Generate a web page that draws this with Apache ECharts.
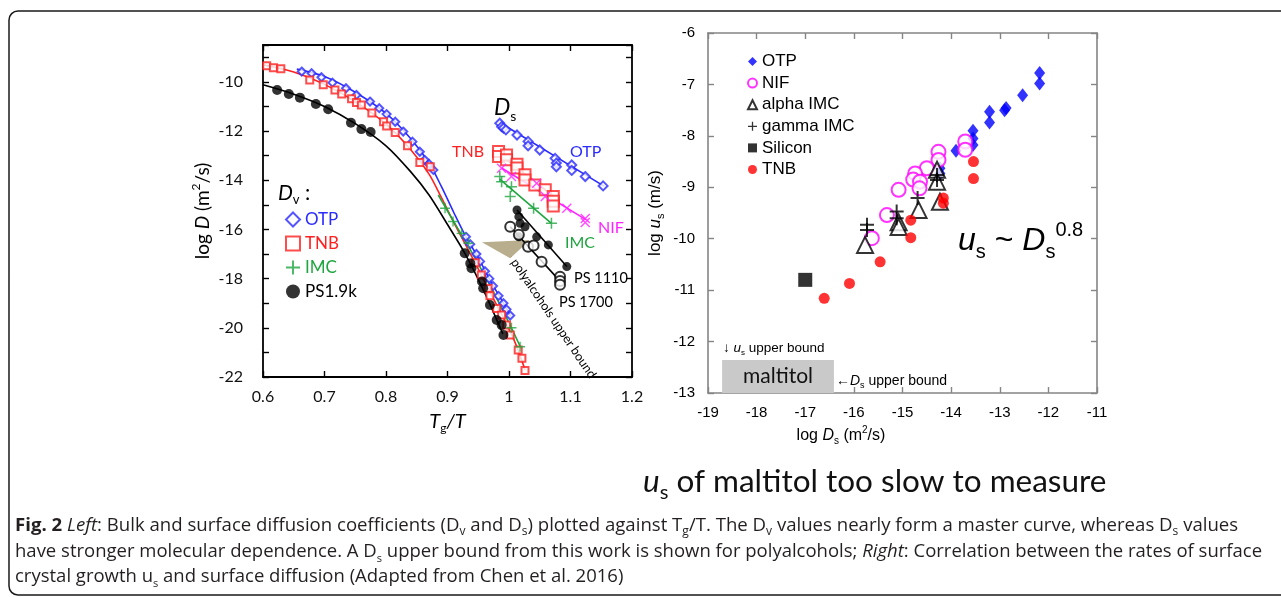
<!DOCTYPE html>
<html><head><meta charset="utf-8">
<script src="https://cdn.jsdelivr.net/npm/echarts@6/dist/echarts.min.js"></script>
<style>html,body{margin:0;padding:0;background:#fff}#c{width:1281px;height:597px}</style>
</head><body><div id="c"></div>
<script>
// ---------- LEFT PANEL DATA (x = Tg/T, y = log D) ----------
const dvOTP = [[0.663,-9.58],[0.679,-9.65],[0.695,-9.81],[0.713,-10.03],[0.735,-10.26],[0.752,-10.53],[0.774,-10.8],[0.789,-11.07],[0.801,-11.31],[0.815,-11.62],[0.828,-12.02],[0.843,-12.43],[0.855,-12.84],[0.863,-13.17],[0.870,-13.34],[0.877,-13.58],[0.930,-16.3],[0.937,-16.6],[0.947,-17.0],[0.953,-17.3],[0.961,-17.7],[0.968,-18.0],[0.974,-18.3],[0.983,-18.7],[0.991,-19.0],[0.996,-19.25],[1.002,-19.5]];
const dvTNB = [[0.606,-9.34],[0.617,-9.42],[0.629,-9.47],[0.676,-9.92],[0.698,-10.12],[0.717,-10.33],[0.728,-10.49],[0.744,-10.69],[0.752,-10.84],[0.760,-10.94],[0.777,-11.27],[0.796,-11.62],[0.801,-11.79],[0.815,-12.06],[0.835,-12.6],[0.855,-13.28],[0.872,-13.45],[0.945,-17.35],[0.955,-17.85],[0.966,-18.4],[0.969,-18.7],[0.98,-19.21],[0.988,-19.48],[0.996,-19.89],[1.002,-20.29],[1.015,-20.9],[1.021,-21.24],[1.026,-21.74]];
const dvIMC = [[0.896,-15.14],[0.909,-15.68],[0.923,-16.16],[0.934,-16.56],[1.004,-20.0],[1.018,-20.77]];
const dvPS = [[0.623,-10.33],[0.642,-10.49],[0.66,-10.64],[0.686,-10.9],[0.706,-11.11],[0.743,-11.66],[0.76,-11.92],[0.775,-12.04],[0.928,-16.97],[0.937,-17.38],[0.939,-17.58],[0.956,-18.12],[0.958,-18.39],[0.969,-19.07],[0.98,-19.68],[0.988,-19.89],[0.991,-20.29]];
const fitOTP = [[0.655,-9.48],[0.7,-9.78],[0.75,-10.42],[0.8,-11.28],[0.84,-12.3],[0.87,-13.3],[0.89,-14.25],[0.91,-15.3],[0.93,-16.3],[0.95,-17.15],[0.97,-18.1],[0.99,-18.95],[1.003,-19.55]];
const fitTNB = [[0.6,-9.3],[0.65,-9.6],[0.7,-10.1],[0.75,-10.8],[0.8,-11.72],[0.84,-12.75],[0.87,-13.75],[0.89,-14.7],[0.91,-15.7],[0.93,-16.65],[0.95,-17.6],[0.97,-18.6],[0.99,-19.55],[1.01,-20.6],[1.026,-21.7]];
const fitPS = [[0.6,-10.12],[0.65,-10.5],[0.7,-11.0],[0.75,-11.7],[0.8,-12.6],[0.84,-13.65],[0.87,-14.6],[0.9,-15.8],[0.93,-17.05],[0.96,-18.55],[0.99,-20.25]];
const fitIMC = [[0.885,-14.6],[0.9,-15.25],[0.92,-16.1],[0.94,-16.95],[0.96,-17.85],[0.98,-18.8],[1.0,-19.8],[1.02,-20.85]];
const dsOTP = [[0.985,-11.68],[0.988,-11.82],[0.991,-11.88],[0.995,-11.95],[1.013,-12.16],[1.031,-12.42],[1.031,-12.6],[1.05,-12.77],[1.075,-13.11],[1.077,-13.3],[1.077,-13.45],[1.102,-13.38],[1.102,-13.6],[1.124,-13.85],[1.153,-14.23]];
const dsTNB = [[0.983,-12.83],[0.983,-13.03],[0.996,-12.97],[0.996,-13.17],[1.013,-13.35],[1.013,-13.5],[1.026,-13.78],[1.026,-13.99],[1.042,-14.19],[1.059,-14.39],[1.072,-14.66],[1.072,-14.85],[1.072,-15.05]];
const dsNIF = [[0.988,-13.51],[1.004,-13.85],[1.045,-14.12],[1.059,-14.66],[1.094,-15.14],[1.124,-15.55],[1.124,-15.72]];
const dsIMC = [[0.985,-13.85],[0.988,-14.06],[1.004,-14.26],[1.002,-14.66],[1.04,-15.14],[1.069,-15.75]];
const ps1110 = [[1.013,-15.21],[1.016,-15.48],[1.018,-15.75],[1.026,-15.89],[1.016,-16.3],[1.045,-16.3],[1.064,-16.63],[1.094,-17.51]];
const ps1700 = [[1.002,-15.89],[1.016,-16.22],[1.031,-16.7],[1.04,-16.65],[1.053,-17.31],[1.083,-17.92],[1.083,-18.1],[1.083,-18.25]];
const fitDsOTP = [[0.985,-11.65],[1.155,-14.25]];
const fitDsTNB = [[0.985,-12.95],[1.072,-14.65]];
const fitDsNIF = [[0.988,-13.5],[1.125,-15.6]];
const fitDsIMC = [[0.985,-13.95],[1.069,-15.75]];
const fitPS1110 = [[1.013,-15.21],[1.094,-17.51]];
const fitPS1700 = [[1.002,-15.89],[1.083,-18.1]];
const polyalcoholBound = [[0.956,-16.52],[1.034,-16.43],[1.002,-17.17]];

// ---------- RIGHT PANEL DATA (x = log Ds, y = log us) ----------
const rOTP = [[-12.18,-6.78],[-12.18,-6.98],[-12.53,-7.21],[-12.87,-7.46],[-12.9,-7.5],[-13.21,-7.53],[-13.21,-7.74],[-13.55,-7.9],[-13.55,-8.05],[-13.55,-8.18],[-13.9,-8.29],[-14.23,-8.63],[-14.23,-8.73]];
const rNIF = [[-13.71,-8.11],[-13.71,-8.27],[-14.26,-8.31],[-14.26,-8.47],[-14.5,-8.63],[-14.74,-8.73],[-14.78,-8.85],[-14.64,-8.89],[-14.65,-9.02],[-15.08,-9.05],[-15.32,-9.54],[-15.63,-9.99]];
const rAlphaIMC = [[-15.77,-10.12],[-15.08,-9.68],[-15.08,-9.77],[-14.67,-9.44],[-14.29,-8.66],[-14.29,-8.89],[-14.23,-9.28]];
const rGammaIMC = [[-15.73,-9.73],[-15.73,-9.83],[-15.12,-9.47],[-15.12,-9.6],[-14.69,-9.21],[-14.29,-8.76],[-14.29,-8.86]];
const rSilicon = [[-17.0,-10.8]];
const rTNB = [[-16.61,-11.16],[-16.09,-10.87],[-15.46,-10.45],[-14.83,-9.64],[-14.83,-9.98],[-14.16,-9.21],[-14.16,-9.31],[-13.54,-8.5],[-13.54,-8.83]];
const maltitolBox = [[-18.71,-13],[-16.41,-12.36]];

// ---------- styling ----------
const LF = 'Lato', RF = 'Liberation Sans', CF = 'Open Sans';
const C_BLUE = '#2b2bff', C_RED = '#ff2020', C_GREEN = '#1fa540', C_MAG = '#ff22ff';
const PLUS = 'path://M4.3,0h1.4v4.3h4.3v1.4h-4.3v4.3h-1.4v-4.3h-4.3v-1.4h4.3z';
const PLUS_B = 'path://M6,0h2v6h6v2h-6v6h-2v-6h-6v-2h6z';
const CROSS = 'path://M0,1L1,0L5,4L9,0L10,1L6,5L10,9L9,10L5,6L1,10L0,9L4,5Z';

function rs(size, fam, subRatio) {
  const ss = Math.round(size * (subRatio || 0.62));
  return {
    i: {fontStyle: 'italic', fontSize: size, fontFamily: fam},
    b: {fontWeight: 'bold', fontSize: size, fontFamily: fam},
    s: {fontSize: ss, fontFamily: fam, lineHeight: ss, verticalAlign: 'bottom'},
    p: {fontSize: ss, fontFamily: fam, lineHeight: ss, verticalAlign: 'top'}
  };
}
function txt(x, y, text, size, fam, color, extra, align) {
  return Object.assign({type: 'text', x, y, silent: true, style: {text, fontSize: size, fontFamily: fam, fill: color,
    lineHeight: Math.round(size * 1.3), verticalAlign: 'middle', align: align || 'left', rich: rs(size, fam)}}, extra || {});
}

const chart = echarts.init(document.getElementById('c'), null, {renderer: 'canvas'});

function sc(name, data, symbol, size, color, extra) {
  return Object.assign({type: 'scatter', name, data, symbol, symbolSize: size,
    itemStyle: {color: color}, z: 4, silent: true, animation: false}, extra || {});
}
function ln(data, color, width, smooth, axes) {
  return Object.assign({type: 'line', data, symbol: 'none', smooth: smooth,
    lineStyle: {color, width}, z: 3, silent: true, animation: false}, axes);
}
const L = {xAxisIndex: 0, yAxisIndex: 0};
const R = {xAxisIndex: 2, yAxisIndex: 2};

const series = [
  {type: 'custom', xAxisIndex: 0, yAxisIndex: 0, data: [0], z: 1, silent: true, animation: false,
    renderItem: (p, api) => ({type: 'polygon', shape: {points: polyalcoholBound.map(d => api.coord(d))}, style: {fill: '#b8ad8c'}})},
  ln(fitOTP, C_BLUE, 1.6, 0.3, L),
  ln(fitTNB, C_RED, 1.6, 0.3, L),
  ln(fitPS, '#000', 1.6, 0.3, L),
  ln(fitIMC, C_GREEN, 1.6, 0.3, L),
  sc('OTP (Dv)', dvOTP, 'emptyDiamond', 8, C_BLUE, Object.assign({itemStyle: {color: C_BLUE, borderWidth: 1.2}}, L)),
  sc('TNB (Dv)', dvTNB, 'emptyRect', 7, C_RED, Object.assign({itemStyle: {color: C_RED, borderWidth: 1.2}}, L)),
  sc('IMC (Dv)', dvIMC, PLUS, 10, C_GREEN, L),
  sc('PS1.9k (Dv)', dvPS, 'circle', 10, '#000', L),
  ln(fitDsOTP, C_BLUE, 1.6, false, L),
  ln(fitDsTNB, C_RED, 1.6, false, L),
  ln(fitDsNIF, C_MAG, 1.6, false, L),
  ln(fitDsIMC, C_GREEN, 1.6, false, L),
  ln(fitPS1110, '#000', 1.6, false, L),
  ln(fitPS1700, '#000', 1.6, false, L),
  sc('Ds OTP', dsOTP, 'emptyDiamond', 9, C_BLUE, Object.assign({itemStyle: {color: C_BLUE, borderWidth: 1.3}}, L)),
  sc('Ds TNB', dsTNB, 'emptyRect', 11, C_RED, Object.assign({itemStyle: {color: C_RED, borderWidth: 1.5}}, L)),
  sc('Ds NIF', dsNIF, CROSS, 10, C_MAG, L),
  sc('Ds IMC', dsIMC, PLUS, 11, C_GREEN, L),
  sc('PS 1110', ps1110, 'circle', 9, '#000', L),
  sc('PS 1700', ps1700, 'emptyCircle', 10, '#000', Object.assign({itemStyle: {color: '#000', borderWidth: 1.4}}, L)),
  // right panel
  {type: 'custom', xAxisIndex: 2, yAxisIndex: 2, data: [0], z: 1, silent: true, animation: false,
    renderItem: (p, api) => {
      const a = api.coord(maltitolBox[0]), b = api.coord(maltitolBox[1]);
      return {type: 'rect', shape: {x: a[0], y: b[1], width: b[0] - a[0], height: a[1] - b[1]},
        style: {fill: '#c9c9c9'},
        textContent: {style: {text: 'maltitol', fontSize: 21, fontFamily: LF, fill: '#111'}},
        textConfig: {position: 'inside'}};
    }},
  sc('OTP', rOTP, 'diamond', [11, 14], '#0000ff', R),
  sc('NIF', rNIF, 'emptyCircle', 14, '#ff00ff', Object.assign({itemStyle: {color: '#ff00ff', borderWidth: 1.5}}, R)),
  sc('alpha IMC', rAlphaIMC, 'emptyTriangle', 16, '#000', Object.assign({itemStyle: {color: '#000', borderWidth: 1.4}}, R)),
  sc('gamma IMC', rGammaIMC, PLUS_B, 14, '#000', R),
  sc('Silicon', rSilicon, 'rect', 14, '#000', R),
  sc('TNB', rTNB, 'circle', 11, '#ff0000', R)
];

function axisX(grid, pos, min, max, itv, color, lw, show, extra) {
  return Object.assign({gridIndex: grid, type: 'value', position: pos, min, max, interval: itv,
    axisLine: {onZero: false, lineStyle: {color, width: lw}},
    axisTick: {inside: true, length: 6, lineStyle: {color, width: 1.4}},
    splitLine: {show: false}, axisLabel: {show: show}}, extra || {});
}

const option = {
  backgroundColor: '#fff',
  animation: false,
  grid: [
    {left: 263, top: 45, width: 369, height: 332},
    {left: 708, top: 33, width: 389, height: 360}
  ],
  xAxis: [
    axisX(0, 'bottom', 0.6, 1.2, 0.1, '#000', 1.8, true, {
      axisLabel: {fontFamily: LF, fontSize: 16, color: '#111', margin: 12},
      name: '{i|T}{s|g}{i|/T}', nameLocation: 'middle', nameGap: 24,
      nameTextStyle: {fontFamily: LF, fontSize: 20, color: '#000', lineHeight: 24, rich: rs(20, LF)}}),
    axisX(0, 'top', 0.6, 1.2, 0.1, '#000', 1.8, false),
    axisX(1, 'bottom', -19, -11, 1, '#858585', 1.6, true, {
      axisLabel: {fontFamily: RF, fontSize: 15, color: '#000', margin: 12}}),
    axisX(1, 'top', -19, -11, 1, '#858585', 1.6, false)
  ],
  yAxis: [
    axisX(0, 'left', -22, -8.5, 1, '#000', 1.8, true, {
      axisLabel: {fontFamily: LF, fontSize: 16, color: '#111', margin: 20,
        formatter: v => (Math.abs(v % 2) < 1e-9 ? String(v) : '')},
      name: 'log {i|D} (m{p|2}/s)', nameLocation: 'middle', nameGap: 34, nameRotate: 90,
      nameTextStyle: {fontFamily: LF, fontSize: 19, color: '#000', lineHeight: 24, rich: rs(19, LF)}}),
    axisX(0, 'right', -22, -8.5, 1, '#000', 1.8, false),
    axisX(1, 'left', -13, -6, 1, '#858585', 1.6, true, {
      axisLabel: {fontFamily: RF, fontSize: 15, color: '#000', margin: 13}}),
    axisX(1, 'right', -13, -6, 1, '#858585', 1.6, false)
  ],
  legend: [
    {orient: 'vertical', left: 280, top: 206, itemWidth: 14, itemHeight: 14, itemGap: 7,
      selectedMode: false, formatter: n => n.replace(' (Dv)', ''),
      textStyle: {fontFamily: LF, fontSize: 17},
      data: [
        {name: 'OTP (Dv)', textStyle: {color: C_BLUE}},
        {name: 'TNB (Dv)', textStyle: {color: C_RED}},
        {name: 'IMC (Dv)', textStyle: {color: C_GREEN}},
        {name: 'PS1.9k (Dv)', textStyle: {color: '#000'}}
      ]},
    {orient: 'vertical', left: 742, top: 48, itemWidth: 9, itemHeight: 9, itemGap: 4.6,
      selectedMode: false, textStyle: {fontFamily: RF, fontSize: 17, color: '#000'},
      data: ['OTP', 'NIF', 'alpha IMC', 'gamma IMC', 'Silicon', 'TNB']}
  ],
  series: series,
  graphic: [
    {type: 'rect', shape: {x: 9, y: 11, width: 1300, height: 584, r: 9}, style: {fill: 'none', stroke: '#1a1a1a', lineWidth: 1.5}, silent: true},
    txt(278, 193, '{i|D}{s|v} :', 21, LF, '#000'),
    txt(494, 108, '{i|D}{s|s}', 23, LF, '#000'),
    txt(452, 152, 'TNB', 16, LF, C_RED),
    txt(570, 152, 'OTP', 16, LF, C_BLUE),
    txt(598, 228, 'NIF', 16, LF, C_MAG),
    txt(565, 243, 'IMC', 16, LF, C_GREEN),
    txt(574, 278, 'PS 1110', 14.5, LF, '#000'),
    txt(559, 302, 'PS 1700', 14.5, LF, '#000'),
    txt(505, 247, '\u2190 polyalcohols upper bound', 12.5, LF, '#000', {rotation: -0.975}),
    // right panel annotations
    txt(723, 348, '\u2193 {i|u}{s|s} upper bound', 13.5, RF, '#000'),
    txt(836, 381, '\u2190{i|D}{s|s} upper bound', 14, RF, '#000'),
    txt(958, 241, '{i|u}{s|s} ~ {i|D}{s|s}{p|0.8}', 32, RF, '#000'),
    txt(841, 436, 'log {i|D}{s|s} (m{p|2}/s)', 16, RF, '#000', {}, 'center'),
    txt(655, 213, 'log {i|u}{s|s} (m/s)', 17, RF, '#000', {rotation: Math.PI / 2}, 'center'),
    txt(643, 482, '{i|u}{s|s} of maltitol too slow to measure', 31.5, LF, '#111'),
    // caption
    txt(15, 526, '{b|Fig. 2} {i|Left}: Bulk and surface diffusion coefficients (D{s|v} and D{s|s}) plotted against T{s|g}/T. The D{s|v} values nearly form a master curve, whereas D{s|s} values', 18.6, CF, '#231f20'),
    txt(15, 552, 'have stronger molecular dependence. A D{s|s} upper bound from this work is shown for polyalcohols; {i|Right}: Correlation between the rates of surface', 18.5, CF, '#231f20'),
    txt(15, 577, 'crystal growth u{s|s} and surface diffusion (Adapted from Chen et al. 2016)', 18.5, CF, '#231f20')
  ]
};
chart.setOption(option);
</script></body></html>
